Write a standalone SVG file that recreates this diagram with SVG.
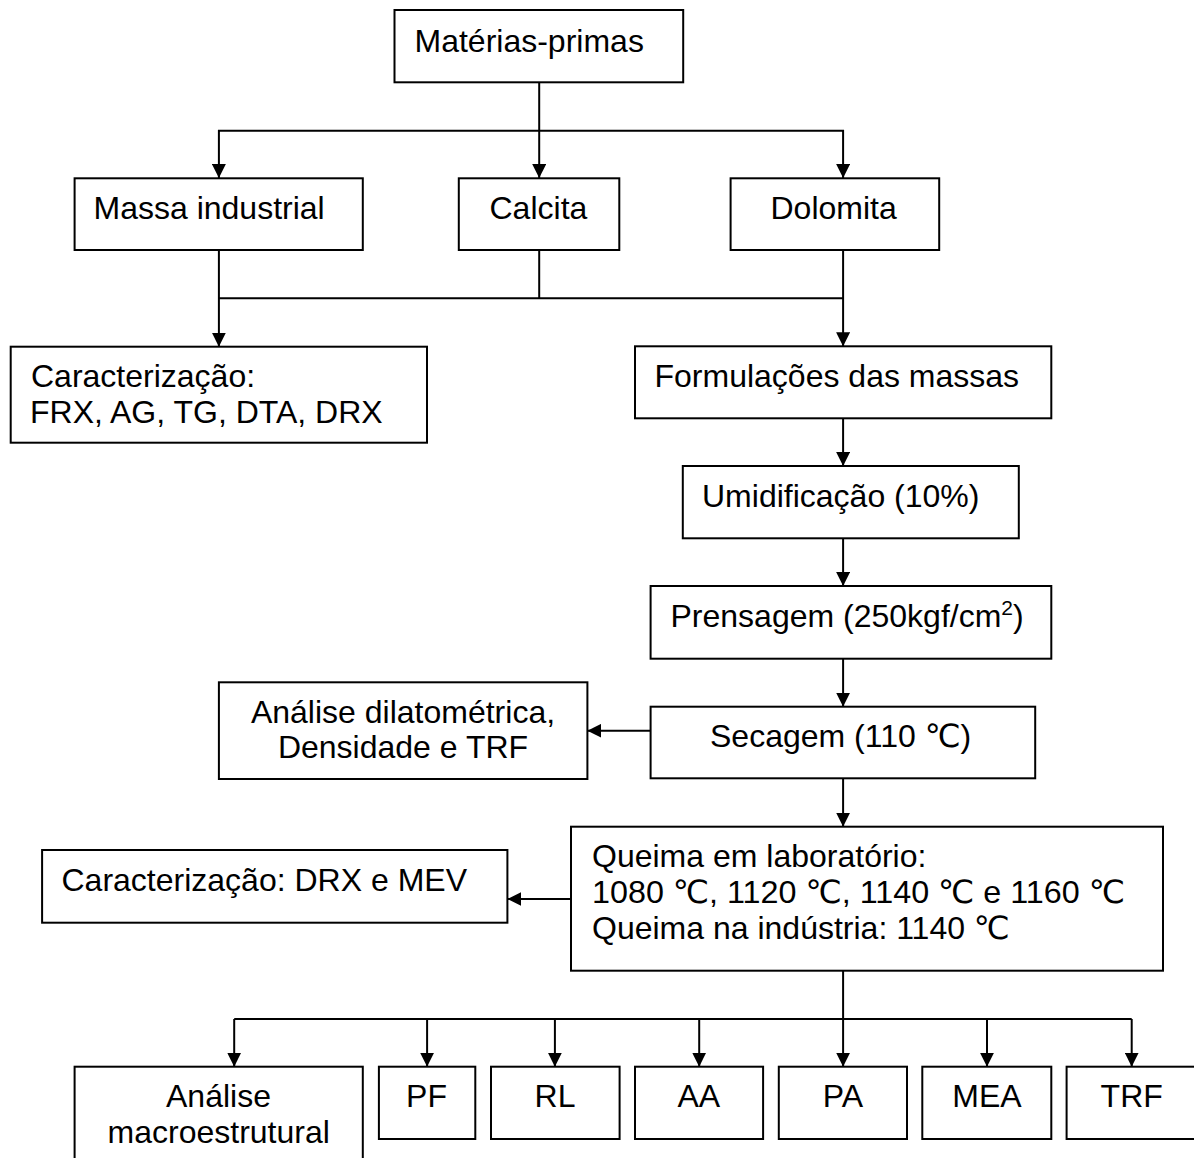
<svg xmlns="http://www.w3.org/2000/svg" width="1194" height="1158" viewBox="0 0 1194 1158">
<style>
.box{fill:#fff;stroke:#000;stroke-width:2}
.c{fill:none;stroke:#000;stroke-width:2}
text{font-family:"Liberation Sans","DejaVu Sans",Arial,sans-serif;font-size:32px;fill:#000}
.m{text-anchor:middle}
</style>
<defs>
<marker id="ah" viewBox="0 0 14 14" refX="14" refY="7" markerWidth="14" markerHeight="14" markerUnits="userSpaceOnUse" orient="auto">
<path d="M0,0 L14,7 L0,14 z" fill="#000"/>
</marker>
</defs>
<rect width="1194" height="1158" fill="#fff"/>
<g id="connectors">
<path class="c" d="M539.2,82.3 V178" marker-end="url(#ah)"/>
<path class="c" d="M539.2,130.7 H218.9 V178" marker-end="url(#ah)"/>
<path class="c" d="M539.2,130.7 H843.1 V178" marker-end="url(#ah)"/>
<path class="c" d="M218.9,250 V346.7" marker-end="url(#ah)"/>
<path class="c" d="M539.2,250 V298.3"/>
<path class="c" d="M218.9,298.3 H843.1"/>
<path class="c" d="M843.1,250 V346.3" marker-end="url(#ah)"/>
<path class="c" d="M843.1,418.3 V466" marker-end="url(#ah)"/>
<path class="c" d="M843.1,538.3 V586" marker-end="url(#ah)"/>
<path class="c" d="M843.1,658.7 V706.7" marker-end="url(#ah)"/>
<path class="c" d="M650.6,730.7 H587.4" marker-end="url(#ah)"/>
<path class="c" d="M843.1,778.3 V826.7" marker-end="url(#ah)"/>
<path class="c" d="M571,899 H507.4" marker-end="url(#ah)"/>
<path class="c" d="M843.1,970.7 V1066.7" marker-end="url(#ah)"/>
<path class="c" d="M234.2,1019 H1131.7"/>
<path class="c" d="M234.2,1019 V1066.7" marker-end="url(#ah)"/>
<path class="c" d="M427.1,1019 V1066.7" marker-end="url(#ah)"/>
<path class="c" d="M554.9,1019 V1066.7" marker-end="url(#ah)"/>
<path class="c" d="M699.2,1019 V1066.7" marker-end="url(#ah)"/>
<path class="c" d="M987,1019 V1066.7" marker-end="url(#ah)"/>
<path class="c" d="M1131.7,1019 V1066.7" marker-end="url(#ah)"/>
</g>
<g id="materias-primas"><rect class="box" x="394.5" y="10" width="288.7" height="72.3"/><text x="414.5" y="51.7">Matérias-primas</text></g>
<g id="massa-industrial"><rect class="box" x="74.6" y="178.3" width="288.2" height="71.7"/><text x="93.5" y="219">Massa industrial</text></g>
<g id="calcita"><rect class="box" x="458.8" y="178.3" width="160.5" height="71.7"/><text x="489.5" y="219">Calcita</text></g>
<g id="dolomita"><rect class="box" x="730.6" y="178.3" width="208.6" height="71.7"/><text x="770.5" y="219">Dolomita</text></g>
<g id="caracterizacao1"><rect class="box" x="10.7" y="346.7" width="416.3" height="96"/><text x="31" y="386.7">Caracterização:</text><text x="30" y="422.7">FRX, AG, TG, DTA, DRX</text></g>
<g id="formulacoes"><rect class="box" x="635" y="346.3" width="416.3" height="72"/><text x="654.5" y="386.7">Formulações das massas</text></g>
<g id="umidificacao"><rect class="box" x="682.8" y="466" width="336" height="72.3"/><text x="702" y="506.7">Umidificação (10%)</text></g>
<g id="prensagem"><rect class="box" x="650.6" y="586" width="400.7" height="72.7"/><text x="670.5" y="626.7">Prensagem (250kgf/cm<tspan font-size="21" dy="-12">2</tspan><tspan dy="12">)</tspan></text></g>
<g id="secagem"><rect class="box" x="650.6" y="706.7" width="384.6" height="71.6"/><text x="710" y="746.7">Secagem (110 ℃)</text></g>
<g id="analise-dilatometrica"><rect class="box" x="218.9" y="682.3" width="368.5" height="96.7"/><text class="m" x="403" y="723.3">Análise dilatométrica,</text><text class="m" x="403" y="758.3">Densidade e TRF</text></g>
<g id="queima"><rect class="box" x="571" y="826.7" width="592" height="144"/><text x="592" y="866.7">Queima em laboratório:</text><text x="592" y="903.3" textLength="533" lengthAdjust="spacingAndGlyphs">1080 ℃, 1120 ℃, 1140 ℃ e 1160 ℃</text><text x="592" y="939">Queima na indústria: 1140 ℃</text></g>
<g id="caracterizacao2"><rect class="box" x="42.1" y="850" width="465.3" height="72.7"/><text x="61.5" y="890.7">Caracterização: DRX e MEV</text></g>
<g id="analise-macroestrutural"><rect class="box" x="74.6" y="1066.7" width="288.2" height="110"/><text class="m" x="218.5" y="1106.7">Análise</text><text class="m" x="218.7" y="1143.3">macroestrutural</text></g>
<g id="pf"><rect class="box" x="378.9" y="1066.7" width="96.4" height="72.3"/><text class="m" x="426.5" y="1106.7">PF</text></g>
<g id="rl"><rect class="box" x="491" y="1066.7" width="128.6" height="72.3"/><text class="m" x="555" y="1106.7">RL</text></g>
<g id="aa"><rect class="box" x="635" y="1066.7" width="128.1" height="72.3"/><text class="m" x="698.8" y="1106.7">AA</text></g>
<g id="pa"><rect class="box" x="778.8" y="1066.7" width="128.2" height="72.3"/><text class="m" x="843" y="1106.7">PA</text></g>
<g id="mea"><rect class="box" x="922.3" y="1066.7" width="129" height="72.3"/><text class="m" x="987" y="1106.7">MEA</text></g>
<g id="trf"><rect class="box" x="1066.6" y="1066.7" width="130" height="72.3"/><text class="m" x="1131.7" y="1106.7">TRF</text></g>
</svg>
